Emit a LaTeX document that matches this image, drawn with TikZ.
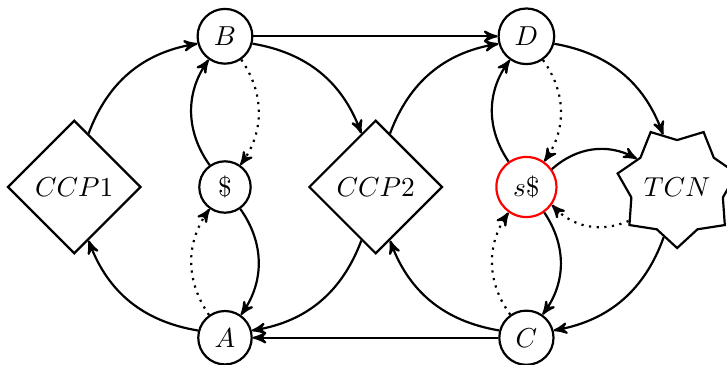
\documentclass[tikz,border=0pt]{standalone}
\usetikzlibrary{arrows,shapes.geometric}
\begin{document}
\begin{tikzpicture}[x=1pt,y=1pt,thick,>=stealth',
  vertex/.style={circle,draw},
  ccp/.style={diamond,draw,aspect=1},
  tcn/.style={star,star points=7,star point ratio=1.3,shape border rotate=180,
    inner sep=0pt,minimum size=43pt,draw}]
\useasboundingbox (-82.100000,-64.600000) rectangle (183.200000,68.250000);
% Drawing nodes
% Left ring
\node[ccp] (CCP1) at (-55.000000,0.000000) {$CCP1$};
\node[vertex] (B) at (0.000000,55.000000) {$B$};
\node[vertex] (S) at (0.000000,0.000000) {\$};
\node[vertex] (A) at (0.000000,-55.000000) {$A$};
% Right ring
\node[ccp] (CCP2) at (55.000000,0.000000) {$CCP2$};
\node[vertex] (D) at (110.000000,55.000000) {$D$};
\node[vertex,draw=red] (sS) at (110.000000,0.000000) {$s\$$};
\node[vertex] (C) at (110.000000,-55.000000) {$C$};
\node[tcn] (TCN) at (165.000000,0.000000) {$TCN$};
% Done with nodes; drawing outer edges
\draw[->] (A) to[bend left] (CCP1);
\draw[->] (CCP1) to[bend left] (B);
\draw[->] (B) to[bend left] (CCP2);
\draw[->] (CCP2) to[bend left] (A);
\draw[->] (C) to[bend left] (CCP2);
\draw[->] (CCP2) to[bend left] (D);
\draw[->] (D) to[bend left] (TCN);
\draw[->] (TCN) to[bend left] (C);
\draw[->] (B) -- (D);
\draw[->] (C) -- (A);
% Done with outer edges; drawing inner edges
\draw[->] (S) to[bend left=35] (B);
\draw[->,dotted] (B) to[bend left=35] (S);
\draw[->] (S) to[bend left=35] (A);
\draw[->,dotted] (A) to[bend left=35] (S);
\draw[->] (sS) to[bend left=35] (D);
\draw[->,dotted] (D) to[bend left=35] (sS);
\draw[->] (sS) to[bend left=35] (C);
\draw[->,dotted] (C) to[bend left=35] (sS);
\draw[->] (sS) to[bend left=35] (TCN);
\draw[->,dotted] (TCN) to[bend left=35] (sS);
% Done with edges
\end{tikzpicture}
\end{document}
